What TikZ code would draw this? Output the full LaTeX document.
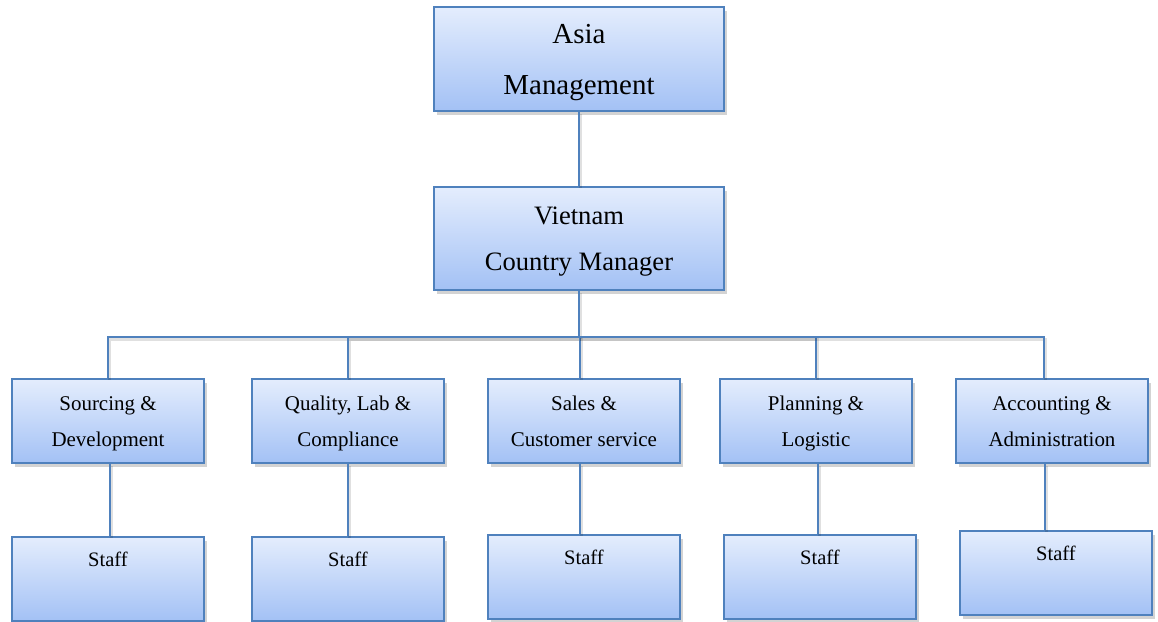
\documentclass[tikz,border=0pt]{standalone}
\usepackage{fontspec}
\setmainfont{Liberation Serif}
\usetikzlibrary{shadows,calc}
\definecolor{boxline}{RGB}{79,129,189}
\definecolor{boxtop}{RGB}{228,237,253}
\definecolor{boxbottom}{RGB}{163,193,245}
\tikzset{
  unit/.style={draw=boxline,line width=1.4pt,top color=boxtop,bottom color=boxbottom,
    drop shadow={opacity=0.35,shadow xshift=2pt,shadow yshift=-2.5pt},align=center,inner sep=0pt},
  dept/.style={unit,minimum width=4.8cm,minimum height=2.1cm,font=\fontsize{14.9}{25.6}\selectfont},
  staffname/.style={font=\fontsize{14.6}{17}\selectfont},
  link/.style={draw=boxline,line width=1.4pt,
    preaction={draw=black,opacity=0.12,line width=2.2pt,transform canvas={xshift=0.8pt,yshift=-1.6pt}}}
}
\begin{document}
\begin{tikzpicture}[x=0.025cm,y=-0.025cm]
\useasboundingbox (0,0) rectangle (1158,621);
\node[unit,minimum width=7.25cm,minimum height=2.6cm,font=\fontsize{20.6}{35.6}\selectfont] (asia) at (579,59) {\strut Asia\\\strut Management};
\node[unit,minimum width=7.25cm,minimum height=2.575cm,font=\fontsize{18.9}{32.7}\selectfont] (viet) at (579,238.5) {\strut Vietnam\\\strut Country Manager};
\node[dept] (src) at (108,421) {\strut Sourcing \&\\\strut Development};
\node[dept] (qual) at (348,421) {\strut Quality, Lab \&\\\strut Compliance};
\node[dept] (sales) at (584,421) {\strut Sales \&\\\strut Customer service};
\node[dept] (plan) at (816,421) {\strut Planning \&\\\strut Logistic};
\node[dept] (acct) at (1052,421) {\strut Accounting \&\\\strut Administration};
\node[dept] (src staff) at (108,579) {};
\node[dept] (qual staff) at (348,579) {};
\node[dept] (sales staff) at (584,577) {};
\node[dept] (plan staff) at (820,577) {};
\node[dept] (acct staff) at (1056,573) {};
\node[staffname] at ($(src staff.north)+(0,23)$) {Staff};
\node[staffname] at ($(qual staff.north)+(0,23)$) {Staff};
\node[staffname] at ($(sales staff.north)+(0,23)$) {Staff};
\node[staffname] at ($(plan staff.north)+(0,23)$) {Staff};
\node[staffname] at ($(acct staff.north)+(0,23)$) {Staff};
\coordinate (bus) at (579,337);
\draw[link] (asia) -- (viet);
\draw[link] (viet) -- (bus);
\draw[link] (bus) -| (src);
\draw[link] (bus) -| (qual);
\draw[link] (bus) -| ([xshift=-0.1cm]sales.north);
\draw[link] (bus) -| (plan);
\draw[link] (bus) -| ([xshift=-0.2cm]acct.north);
\draw[link] ([xshift=0.05cm]src.south) -- ([xshift=0.05cm]src.south |- src staff.north);
\draw[link] (qual) -- (qual.south |- qual staff.north);
\draw[link] ([xshift=-0.1cm]sales.south) -- ([xshift=-0.1cm]sales.south |- sales staff.north);
\draw[link] ([xshift=0.05cm]plan.south) -- ([xshift=0.05cm]plan.south |- plan staff.north);
\draw[link] ([xshift=-0.175cm]acct.south) -- ([xshift=-0.175cm]acct.south |- acct staff.north);
\end{tikzpicture}
\end{document}
